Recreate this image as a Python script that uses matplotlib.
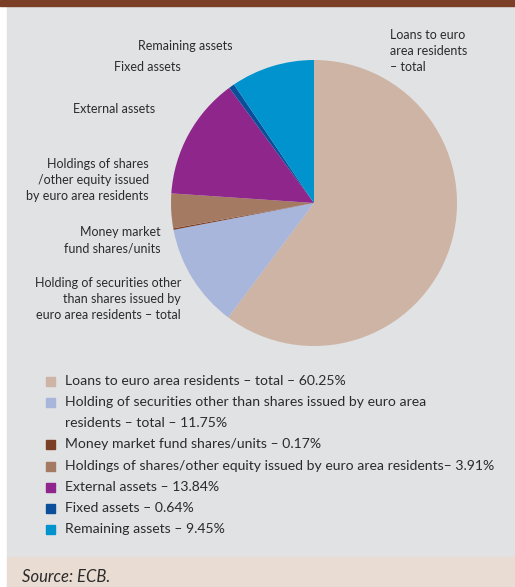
import matplotlib
matplotlib.use("Agg")
import matplotlib.pyplot as plt
from matplotlib.patches import Rectangle

# Asset breakdown (share of total, %)
categories = [
    "Loans to euro area residents – total",
    "Holding of securities other than shares issued by euro area residents – total",
    "Money market fund shares/units",
    "Holdings of shares/other equity issued by euro area residents",
    "External assets",
    "Fixed assets",
    "Remaining assets",
]
shares = [60.25, 11.75, 0.17, 3.91, 13.84, 0.64, 9.45]
slice_labels = [
    "Loans to euro\narea residents\n– total",
    "Holding of securities other\nthan shares issued by\neuro area residents – total",
    "Money market\nfund shares/units",
    "Holdings of shares\n/other equity issued\nby euro area residents",
    "External assets",
    "Fixed assets",
    "Remaining assets",
]
legend_lines = [
    "Loans to euro area residents – total – {:.2f}%",
    "Holding of securities other than shares issued by euro area\nresidents – total – {:.2f}%",
    "Money market fund shares/units – {:.2f}%",
    "Holdings of shares/other equity issued by euro area residents– {:.2f}%",
    "External assets – {:.2f}%",
    "Fixed assets – {:.2f}%",
    "Remaining assets – {:.2f}%",
]
colors = ["#cdb4a5", "#a9b6db", "#7b3f27", "#a57a62", "#8e268b", "#0b4f9a", "#0093cd"]

W, H = 515, 587
FONT = ["Lato", "DejaVu Sans"]
TXT = "#2b2b2b"

fig = plt.figure(figsize=(W / 100, H / 100), dpi=100)
fig.patch.set_facecolor("white")


def fx(x):
    return x / W


def fy(y):
    return 1 - y / H


# background panels
for rect, col in [((7, 6, W - 7, 551), "#e1e2e4"),
                  ((0, 0, W, 6), "#7b3f27"),
                  ((7, 557, W - 7, H - 557), "#e9dcd2")]:
    x, y, w, h = rect
    fig.patches.append(Rectangle((fx(x), fy(y + h)), w / W, h / H,
                                 transform=fig.transFigure, color=col,
                                 zorder=-5))

# pie
cx, cy, r = 314, 203, 143
ax = fig.add_axes([fx(cx - r), fy(cy + r), 2 * r / W, 2 * r / H], zorder=2)
ax.pie(shares, colors=colors, startangle=90, counterclock=False,
       wedgeprops=dict(linewidth=0))
ax.set_xlim(-1, 1)
ax.set_ylim(-1, 1)
ax.set_aspect("auto")
ax.axis("off")

# slice annotations: (x, y, ha) in pixels
label_pos = [
    (390, 51, "left"),
    (181, 299, "right"),
    (161, 240, "right"),
    (149, 180, "right"),
    (155, 109, "right"),
    (181, 67, "right"),
    (233, 46, "right"),
]
for text, (x, y, ha) in zip(slice_labels, label_pos):
    fig.text(fx(x), fy(y), text, ha=ha, va="center", fontsize=9.0,
             family=FONT, color=TXT, linespacing=1.42, multialignment=ha)

# legend, one text line per row
row_y = [381, 402, 423, 444, 466, 487, 508, 529]
row = 0
for lbl, val, col in zip(legend_lines, shares, colors):
    y = row_y[row]
    fig.patches.append(Rectangle((fx(46), fy(y + 4.5)), 9 / W, 9 / H,
                                 transform=fig.transFigure, color=col))
    for line in lbl.format(val).split("\n"):
        fig.text(fx(65), fy(row_y[row]), line, ha="left", va="center",
                 fontsize=10.1, family=FONT, color=TXT)
        row += 1

fig.text(fx(22), fy(577), "Source: ECB.", ha="left", va="center",
         fontsize=12, family=FONT, style="italic", color=TXT)

fig.savefig("out.png", dpi=100, facecolor=fig.get_facecolor())
